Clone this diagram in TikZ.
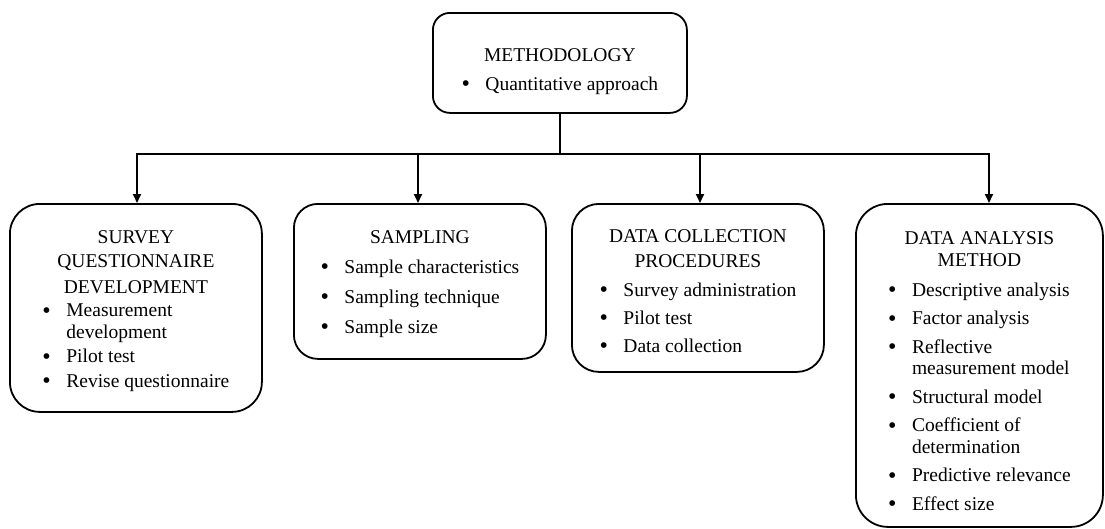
\documentclass[tikz,border=0pt]{standalone}
\usepackage{fontspec}
\setmainfont{Liberation Serif}
\usetikzlibrary{arrows.meta}
\newcommand{\bul}{\raisebox{-1.2pt}{\fontsize{24}{21.5}\selectfont\textbullet}}
\newcommand{\blt}[1]{\begin{tabular}[t]{@{}l@{\hspace{15.5pt}}l@{}}#1\end{tabular}}
\tikzset{
  box/.style={draw=black, line width=1.8pt, rounded corners=#1, inner sep=0pt, fill=white},
  txt/.style={align=center, inner sep=0pt, anchor=north, font=\fontsize{19.5}{21.5}\selectfont},
  conn/.style={line width=1.8pt},
  arr/.style={line width=1.8pt, -{Triangle[length=9pt,width=8pt]}}
}
\begin{document}
\begin{tikzpicture}[x=1pt,y=-1pt]
\useasboundingbox (0,0) rectangle (1105,528);
% boxes
\node[box=17pt, minimum width=254pt, minimum height=100pt, anchor=north west] (top) at (432,12) {};
\node[box=30pt, minimum width=252pt, minimum height=208pt, anchor=north west] (b1) at (9,203) {};
\node[box=24pt, minimum width=252pt, minimum height=155pt, anchor=north west] (b2) at (293,203) {};
\node[box=27pt, minimum width=252pt, minimum height=168pt, anchor=north west] (b3) at (571,203) {};
\node[box=32pt, minimum width=247pt, minimum height=323pt, anchor=north west] (b4) at (855,203) {};
% texts
\node[txt] (ttop) at ([yshift=-36.3pt]top.north) {METHODOLOGY\\[7.5pt]\blt{\bul & Quantitative approach}};
\node[txt] (t1) at ([yshift=-27.7pt]b1.north) {SURVEY\\[2pt]QUESTIONNAIRE\\[4.5pt]DEVELOPMENT\\[2pt]\blt{\bul & Measurement\\ & development\\[3pt] \bul & Pilot test\\[3pt] \bul & Revise questionnaire}};
\node[txt] (t2) at ([yshift=-27.5pt]b2.north) {SAMPLING\\[8pt]\blt{\bul & Sample characteristics\\[8.5pt] \bul & Sampling technique\\[8.5pt] \bul & Sample size}};
\node[txt] (t3) at ([yshift=-26.3pt]b3.north) {DATA COLLECTION\\[4pt]PROCEDURES\\[7pt]\blt{\bul & Survey administration\\[6.5pt] \bul & Pilot test\\[6.5pt] \bul & Data collection}};
\node[txt] (t4) at ([yshift=-28.7pt]b4.north) {DATA ANALYSIS\\METHOD\\[8.5pt]\blt{\bul & Descriptive analysis\\[7pt] \bul & Factor analysis\\[7pt] \bul & Reflective\\ & measurement model\\[7pt] \bul & Structural model\\[7pt] \bul & Coefficient of\\ & determination\\[7pt] \bul & Predictive relevance\\[7pt] \bul & Effect size}};
% connectors
\coordinate (jn) at (top.south |- 0,154);
\coordinate (a1) at (137,154);
\coordinate (a2) at (418,154);
\coordinate (a3) at (700,154);
\coordinate (a4) at (989,154);
\draw[conn] (top.south) -- (jn);
\draw[conn, line cap=rect] (a1) -- (a4);
\draw[arr] (a1) -- (a1 |- b1.north);
\draw[arr] (a2) -- (a2 |- b2.north);
\draw[arr] (a3) -- (a3 |- b3.north);
\draw[arr] (a4) -- (a4 |- b4.north);
\end{tikzpicture}
\end{document}
